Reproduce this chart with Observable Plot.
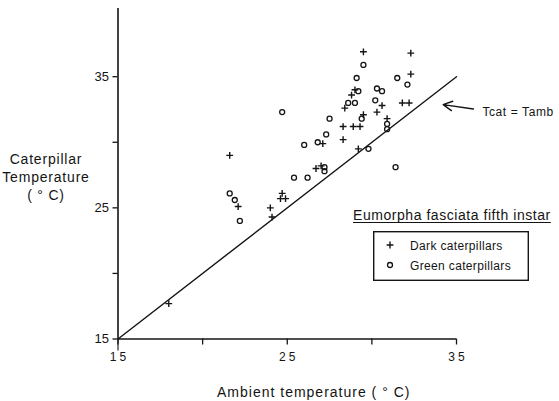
<!DOCTYPE html>
<html>
<head>
<meta charset="utf-8">
<script src="https://cdn.jsdelivr.net/npm/d3@7"></script>
<script src="https://cdn.jsdelivr.net/npm/@observablehq/plot@0.6"></script>
<style>
  html, body { margin: 0; padding: 0; background: #fff; }
  #chart { position: relative; width: 559px; height: 401px; font-family: "Liberation Sans", Arial, Helvetica, sans-serif; }
  #chart > svg { position: absolute; left: 0; top: 0; }
  #overlay { pointer-events: none; }
</style>
</head>
<body>
<div id="chart"></div>
<script>
// Body temperature of Eumorpha fasciata fifth-instar caterpillars vs ambient temperature (°C)
const darkAmbient = [29.5, 29.0, 28.8, 28.4, 30.6, 30.3, 29.5, 30.9, 28.3, 28.9, 29.3, 27.1, 28.3, 29.2,
                     21.6, 26.7, 27.0, 22.1, 24.0, 24.1, 24.7, 24.6, 24.9, 18.0, 32.3, 32.3, 31.8, 32.2];
const darkBody    = [36.9, 34.0, 33.6, 32.6, 32.8, 32.3, 32.1, 31.8, 31.2, 31.2, 31.2, 29.9, 30.2, 29.5,
                     29.0, 28.0, 28.2, 25.1, 25.0, 24.3, 26.1, 25.7, 25.7, 17.7, 36.8, 35.2, 33.0, 33.0];
const greenAmbient = [29.5, 29.1, 31.5, 29.2, 30.3, 30.6, 28.6, 29.0, 30.2, 24.7, 29.4, 27.5, 30.9, 30.9,
                      27.3, 26.0, 26.8, 29.8, 31.4, 27.2, 27.2, 25.4, 26.2, 21.6, 21.9, 22.2, 32.1];
const greenBody    = [35.9, 34.9, 34.9, 33.9, 34.1, 33.9, 33.0, 33.0, 33.2, 32.3, 31.8, 31.8, 31.4, 31.0,
                      30.6, 29.8, 30.0, 29.5, 28.1, 28.1, 27.8, 27.3, 27.3, 26.1, 25.6, 24.0, 34.4];

const xTicks = [15, 20, 25, 30, 35];
const xTickLabels = ["15", "", "25", "", "35"];
const yTicks = [15, 20, 25, 30, 35];
const yTickLabels = ["15", "", "25", "", "35"];
const identityLine = [15, 35];          // Tcat = Tamb
const arrowFrom = [36.0, 32.54];
const arrowTo = [34.21, 32.87];
const lineNote = "Tcat = Tamb";
const noteAt = [36.53, 32.33];

const xLabel = "Ambient temperature ( ° C)";
const yLabelLines = ["Caterpillar", "Temperature", "( ° C)"];
const legendTitle = "Eumorpha fasciata fifth instar";
const seriesNames = ["Dark caterpillars", "Green caterpillars"];

const ink = "#141414";
const font = '"Liberation Sans", Arial, Helvetica, sans-serif';

const dark = darkAmbient.map((x, i) => ({x, y: darkBody[i]}));
const green = greenAmbient.map((x, i) => ({x, y: greenBody[i]}));

// thin stroked "+" whose half-arm equals r
const plusSymbol = {
  draw(ctx, size) {
    const r = Math.sqrt(size / Math.PI);
    ctx.moveTo(-r, 0); ctx.lineTo(r, 0);
    ctx.moveTo(0, -r); ctx.lineTo(0, r);
  }
};

const chart = Plot.plot({
  width: 559,
  height: 401,
  marginLeft: 117.5,
  marginRight: 103,
  marginTop: 8,
  marginBottom: 62.5,
  x: {domain: [15, 35]},
  y: {domain: [15, 40.2]},
  style: {fontFamily: font, color: ink, background: "#fff", overflow: "visible"},
  marks: [
    Plot.ruleX([15], {stroke: ink, strokeWidth: 1.6}),
    Plot.ruleY([15], {stroke: ink, strokeWidth: 1.5}),
    Plot.axisY({ticks: yTicks, tickSize: 5, tickPadding: 4, fontSize: 13, strokeWidth: 1.3,
                tickFormat: d => yTickLabels[yTicks.indexOf(d)], label: null}),
    Plot.axisX({ticks: xTicks, tickSize: 6, tickPadding: 7.5, fontSize: 12, strokeWidth: 1.3,
                tickFormat: d => xTickLabels[xTicks.indexOf(d)], label: null}),
    Plot.axisX({ticks: [xTicks[0]], tickSize: 12, strokeWidth: 1.1, text: null, label: null}),
    Plot.line(identityLine.map(v => [v, v]), {stroke: ink, strokeWidth: 1.4}),
    Plot.dot(green, {x: "x", y: "y", symbol: "circle", r: 2.5, fill: "none", stroke: ink, strokeWidth: 1.3}),
    Plot.dot(dark, {x: "x", y: "y", symbol: plusSymbol, r: 3.4, fill: "none", stroke: ink, strokeWidth: 1.4}),
    Plot.arrow([0], {x1: () => arrowFrom[0], y1: () => arrowFrom[1], x2: () => arrowTo[0], y2: () => arrowTo[1],
                     stroke: ink, strokeWidth: 1.4, headLength: 11, headAngle: 55}),
    Plot.text([lineNote], {x: () => noteAt[0], y: () => noteAt[1], text: d => d, textAnchor: "start",
                           fontSize: 12, fill: ink})
  ]
});

d3.select(chart).selectAll('[aria-label="x-axis tick label"] text')
  .style("letter-spacing", "3px").attr("dx", 1.5);
d3.select(chart).selectAll('[aria-label="text"] text').style("letter-spacing", "0.6px");

const root = document.getElementById("chart");
root.appendChild(chart);

// axis titles and the legend, drawn on a layer above the plot
const ov = d3.select(root).append("svg")
  .attr("id", "overlay")
  .attr("width", 559).attr("height", 401)
  .style("font-family", font)
  .attr("fill", ink);

ov.append("text").attr("x", 217).attr("y", 397).attr("font-size", 14)
  .style("letter-spacing", "1px").text(xLabel);

ov.selectAll("text.ylab").data(yLabelLines).join("text")
  .attr("class", "ylab")
  .attr("x", 46).attr("y", (d, i) => 164 + i * 18)
  .attr("text-anchor", "middle").attr("font-size", 14)
  .style("letter-spacing", "0.8px").text(d => d);

const title = ov.append("text").attr("x", 353).attr("y", 220).attr("font-size", 14)
  .style("letter-spacing", "0.55px").text(legendTitle);
const tw = title.node().getComputedTextLength();
ov.append("line").attr("x1", 353).attr("x2", 353 + tw).attr("y1", 222.5).attr("y2", 222.5)
  .attr("stroke", ink).attr("stroke-width", 1.1);

const lg = ov.append("g").attr("transform", "translate(373,231)");
lg.append("rect").attr("x", 0.7).attr("y", 0.7).attr("width", 154.6).attr("height", 48.6)
  .attr("fill", "#fff").attr("stroke", ink).attr("stroke-width", 1.4);
lg.append("path").attr("d", "M13.6,14H20.4M17,10.6V17.4").attr("stroke", ink).attr("stroke-width", 1.4).attr("fill", "none");
lg.append("circle").attr("cx", 17).attr("cy", 34).attr("r", 2.5).attr("stroke", ink).attr("stroke-width", 1.3).attr("fill", "none");
lg.selectAll("text").data(seriesNames).join("text")
  .attr("x", 37).attr("y", (d, i) => 18.5 + i * 20)
  .attr("font-size", 12).style("letter-spacing", "0.35px").text(d => d);
</script>
</body>
</html>
